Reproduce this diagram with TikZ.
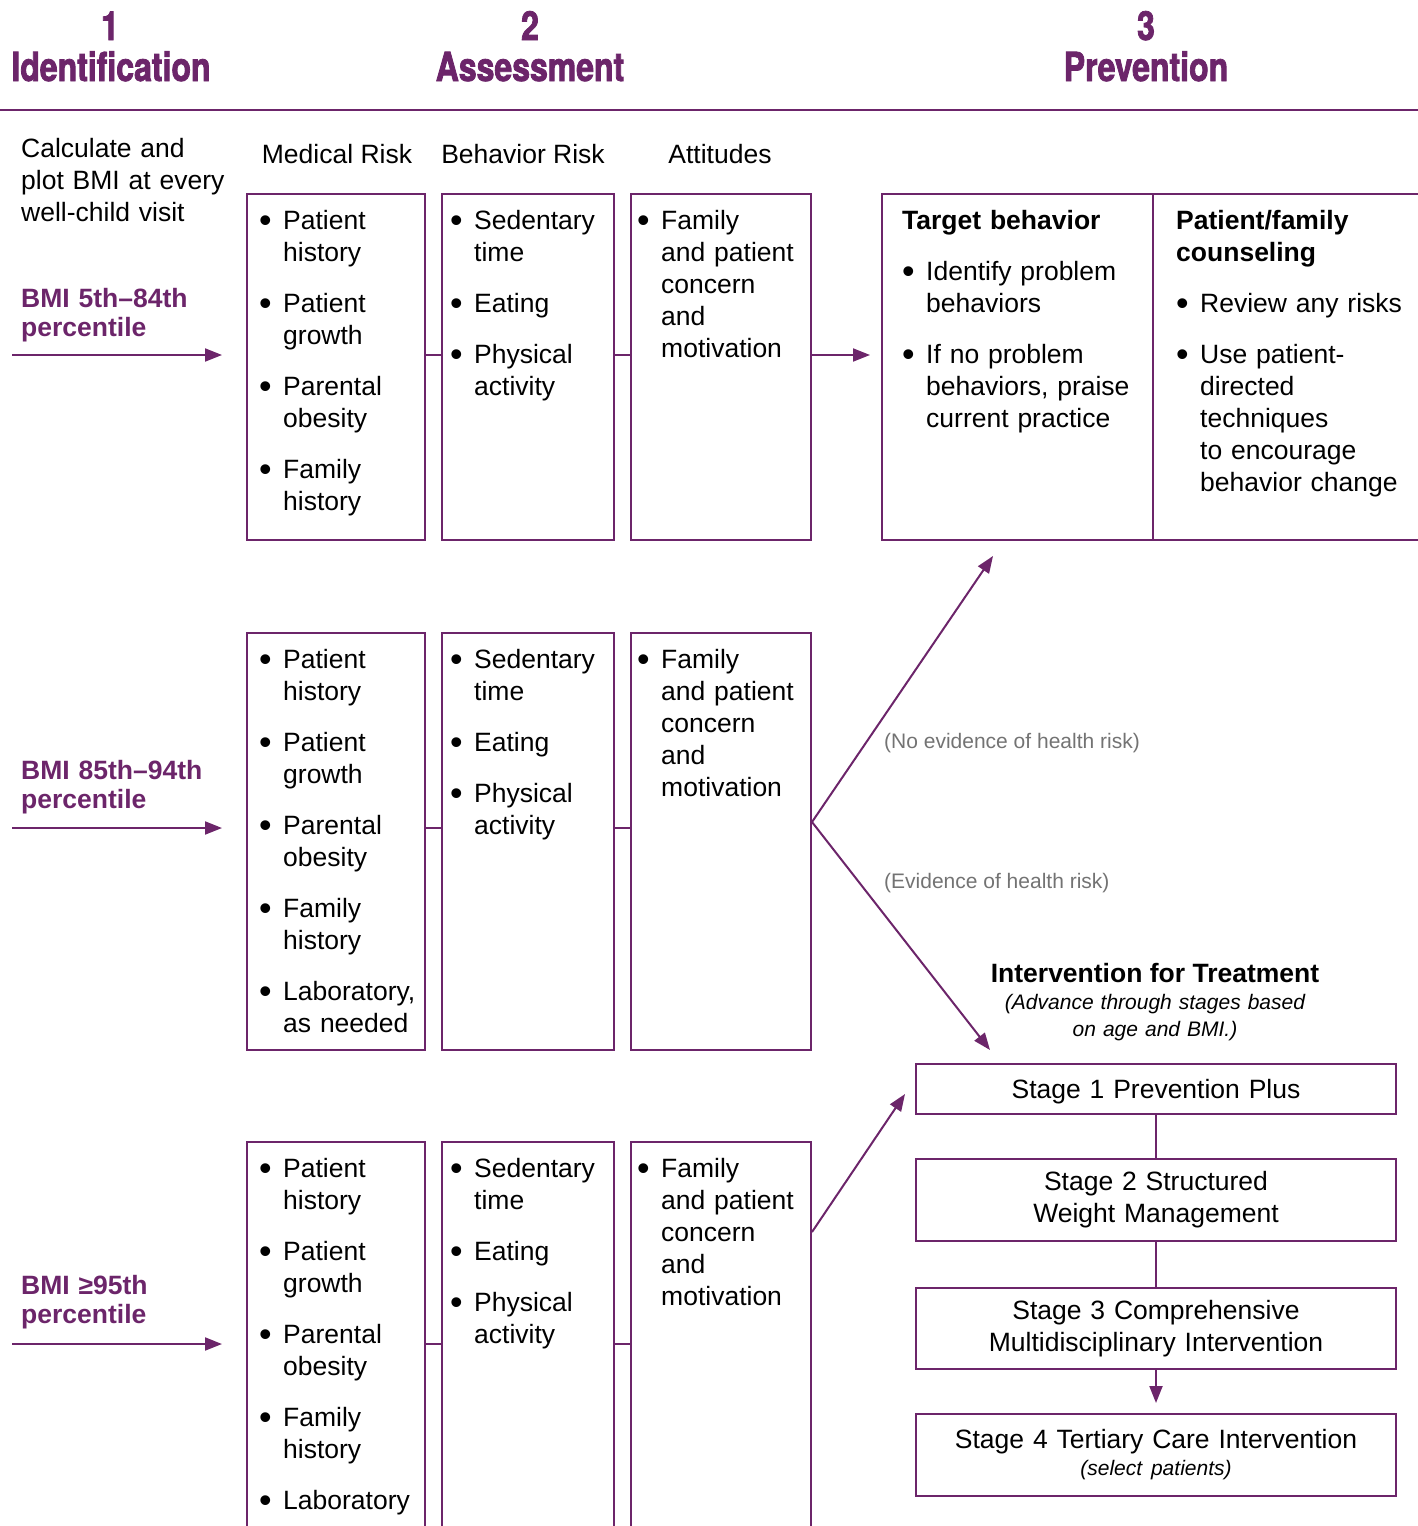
\documentclass[tikz,border=0pt]{standalone}
\usepackage{fontspec}
\setmainfont{Liberation Sans}
\newfontfamily\headfont[FakeStretch=0.80,FakeBold=2]{TeX Gyre Heros}
\usetikzlibrary{arrows.meta}
\definecolor{plum}{RGB}{108,37,106}
\definecolor{notegray}{RGB}{115,115,115}
\newcommand{\bodyfont}{\fontsize{26.5}{32}\selectfont}
\newcommand{\smallfont}{\fontsize{21}{27}\selectfont}
\newcommand{\bmifont}{\fontsize{26.5}{29}\selectfont\bfseries}
\newcommand{\headsize}{\headfont\bfseries\fontsize{40}{44}\selectfont}
% bullet item with hanging indent, and a bold heading line; each ends its own paragraph
\newcommand{\bdot}{\raisebox{-2.5pt}{\scalebox{1.35}{\textbullet}}}
\newcommand{\bpt}[1]{\hangindent=24pt\hangafter=1\noindent\makebox[24pt][l]{\bdot}\rule{0pt}{20pt}#1\par}
\newcommand{\bhead}[1]{\noindent\rule{0pt}{20pt}\textbf{#1}\par}

\begin{document}
\begin{tikzpicture}[x=1pt,y=-1pt,
  box/.style={draw=plum, line width=2pt, inner sep=0pt, anchor=north west},
  link/.style={draw=plum, line width=2pt},
  arr/.style={link, -{Triangle[length=17pt,width=13pt]}},
  lst/.style={anchor=north west, inner sep=0pt, text width=330pt, align=left,
    font=\bodyfont, execute at begin node={\setlength{\parskip}{19pt}}},
  colhead/.style={anchor=base, inner sep=0pt, font=\bodyfont},
  bmi/.style={anchor=north west, inner sep=0pt, text width=250pt, align=left,
    font=\bmifont, text=plum},
  note/.style={anchor=base west, inner sep=0pt, font=\smallfont, text=notegray},
  stage/.style={box, minimum width=480pt, text width=476pt, align=center, font=\bodyfont},
  title/.style={anchor=base, inner sep=0pt, font=\headsize, text=plum}
]
\useasboundingbox (0,0) rectangle (1418,1526);
\clip (0,0) rectangle (1418,1526);

% ---- step headings ----
\node[title] (n1) at (110,40) {1};
\node[title] (t1) at (111,81) {Identification};
\node[title] (n2) at (530,40) {2};
\node[title] (t2) at (530,81) {Assessment};
\node[title] (n3) at (1146,40) {3};
\node[title] (t3) at (1146,81) {Prevention};
\coordinate (ruleL) at (0,110);
\coordinate (ruleR) at (1418,110);
\draw[plum, line width=2.5pt] (ruleL) -- (ruleR);

% ---- left column texts ----
\node[lst] (calc) at (21,137.5) {\noindent\rule{0pt}{20pt}Calculate and\newline plot BMI at every\newline well-child visit\par};
\node[bmi] (bmiA) at (21,287.5) {\rule{0pt}{20pt}BMI 5th–84th\newline percentile};
\node[bmi] (bmiB) at (21,759.5) {\rule{0pt}{20pt}BMI 85th–94th\newline percentile};
\node[bmi] (bmiC) at (21,1274.5) {\rule{0pt}{20pt}BMI ≥95th\newline percentile};

% ---- column headings ----
\node[colhead] (hmed) at (337,163.5) {Medical Risk};
\node[colhead] (hbeh) at (523,163.5) {Behavior Risk};
\node[colhead] (hatt) at (720,163.5) {Attitudes};

% ---- assessment boxes ----
\node[box, minimum width=178pt, minimum height=346pt] (m1) at (246,193) {};
\node[box, minimum width=172pt, minimum height=346pt] (b1) at (441,193) {};
\node[box, minimum width=180pt, minimum height=346pt] (a1) at (630,193) {};
\node[box, minimum width=178pt, minimum height=417pt] (m2) at (246,632) {};
\node[box, minimum width=172pt, minimum height=417pt] (b2) at (441,632) {};
\node[box, minimum width=180pt, minimum height=417pt] (a2) at (630,632) {};
\node[box, minimum width=178pt, minimum height=420pt] (m3) at (246,1141) {};
\node[box, minimum width=172pt, minimum height=420pt] (b3) at (441,1141) {};
\node[box, minimum width=180pt, minimum height=420pt] (a3) at (630,1141) {};

% row 1 lists
\node[lst] (m1l) at (259,209.5) {\bpt{Patient\newline history}\bpt{Patient\newline growth}\bpt{Parental\newline obesity}\bpt{Family\newline history}};
\node[lst] (b1l) at (450,209.5) {\bpt{Sedentary\newline time}\bpt{Eating}\bpt{Physical\newline activity}};
\node[lst] (a1l) at (637,209.5) {\bpt{Family\newline and patient\newline concern\newline and\newline motivation}};
% row 2 lists
\node[lst] (m2l) at (259,648.5) {\bpt{Patient\newline history}\bpt{Patient\newline growth}\bpt{Parental\newline obesity}\bpt{Family\newline history}\bpt{Laboratory,\newline as needed}};
\node[lst] (b2l) at (450,648.5) {\bpt{Sedentary\newline time}\bpt{Eating}\bpt{Physical\newline activity}};
\node[lst] (a2l) at (637,648.5) {\bpt{Family\newline and patient\newline concern\newline and\newline motivation}};
% row 3 lists
\node[lst] (m3l) at (259,1157.5) {\bpt{Patient\newline history}\bpt{Patient\newline growth}\bpt{Parental\newline obesity}\bpt{Family\newline history}\bpt{Laboratory}};
\node[lst] (b3l) at (450,1157.5) {\bpt{Sedentary\newline time}\bpt{Eating}\bpt{Physical\newline activity}};
\node[lst] (a3l) at (637,1157.5) {\bpt{Family\newline and patient\newline concern\newline and\newline motivation}};

% ---- prevention box ----
\node[box, minimum width=271pt, minimum height=346pt] (pt) at (881,193) {};
\node[box, minimum width=300pt, minimum height=346pt] (pc) at (1152,193) {};
\node[lst] (ptl) at (902,209.5) {\bhead{Target behavior}\bpt{Identify problem\newline behaviors}\bpt{If no problem\newline behaviors, praise\newline current practice}};
\node[lst] (pcl) at (1176,209.5) {\bhead{Patient/family\newline counseling}\bpt{Review any risks}\bpt{Use patient-\newline directed\newline techniques\newline to encourage\newline behavior change}};

% ---- row connectors ----
\coordinate (y1) at (0,355);
\coordinate (y2) at (0,828);
\coordinate (y3) at (0,1344);
\coordinate (in1) at (12,355);
\coordinate (in2) at (12,828);
\coordinate (in3) at (12,1344);
\draw[arr, shorten >=24pt] (in1) -- (m1.west |- y1);
\draw[arr, shorten >=24pt] (in2) -- (m2.west |- y2);
\draw[arr, shorten >=24pt] (in3) -- (m3.west |- y3);
\draw[link] (m1.east |- y1) -- (b1.west |- y1);
\draw[link] (b1.east |- y1) -- (a1.west |- y1);
\draw[link] (m2.east |- y2) -- (b2.west |- y2);
\draw[link] (b2.east |- y2) -- (a2.west |- y2);
\draw[link] (m3.east |- y3) -- (b3.west |- y3);
\draw[link] (b3.east |- y3) -- (a3.west |- y3);
\draw[arr, shorten >=11pt] (a1.east |- y1) -- (pt.west |- y1);

% ---- branching from the middle row ----
\coordinate (yfork) at (0,822);
\coordinate (fork) at (a2.east |- yfork);
\coordinate (upend) at (993,556);
\coordinate (dnend) at (990,1050);
\draw[arr] (fork) -- (upend);
\draw[arr] (fork) -- (dnend);
\node[note] (noev) at (884,748.5) {(No evidence of health risk)};
\node[note] (ev) at (884,888.5) {(Evidence of health risk)};

\coordinate (yfork3) at (0,1232);
\coordinate (fork3) at (a3.east |- yfork3);
\coordinate (stend) at (905,1094);
\draw[arr] (fork3) -- (stend);

% ---- treatment stages ----
\node[anchor=base, inner sep=0pt, font=\bodyfont\bfseries] (ivt) at (1155,982.5) {Intervention for Treatment};
\node[anchor=north, inner sep=0pt, text width=400pt, align=center, font=\smallfont\itshape] (ivs) at (1155,993.5) {\rule{0pt}{16pt}(Advance through stages based\\on age and BMI.)};

\node[stage, minimum height=50pt, text depth=0pt] (s1) at (915,1063) {Stage 1 Prevention Plus};
\node[stage, minimum height=82pt] (s2) at (915,1158) {Stage 2 Structured\\Weight Management};
\node[stage, minimum height=81pt] (s3) at (915,1287) {Stage 3 Comprehensive\\Multidisciplinary Intervention};
\node[stage, minimum height=82pt] (s4) at (915,1413) {Stage 4 Tertiary Care Intervention\\[-5pt]{\smallfont\itshape (select patients)}};
\draw[link] (s1.south) -- (s2.north);
\draw[link] (s2.south) -- (s3.north);
\draw[arr, shorten >=10pt] (s3.south) -- (s4.north);
\end{tikzpicture}
\end{document}
